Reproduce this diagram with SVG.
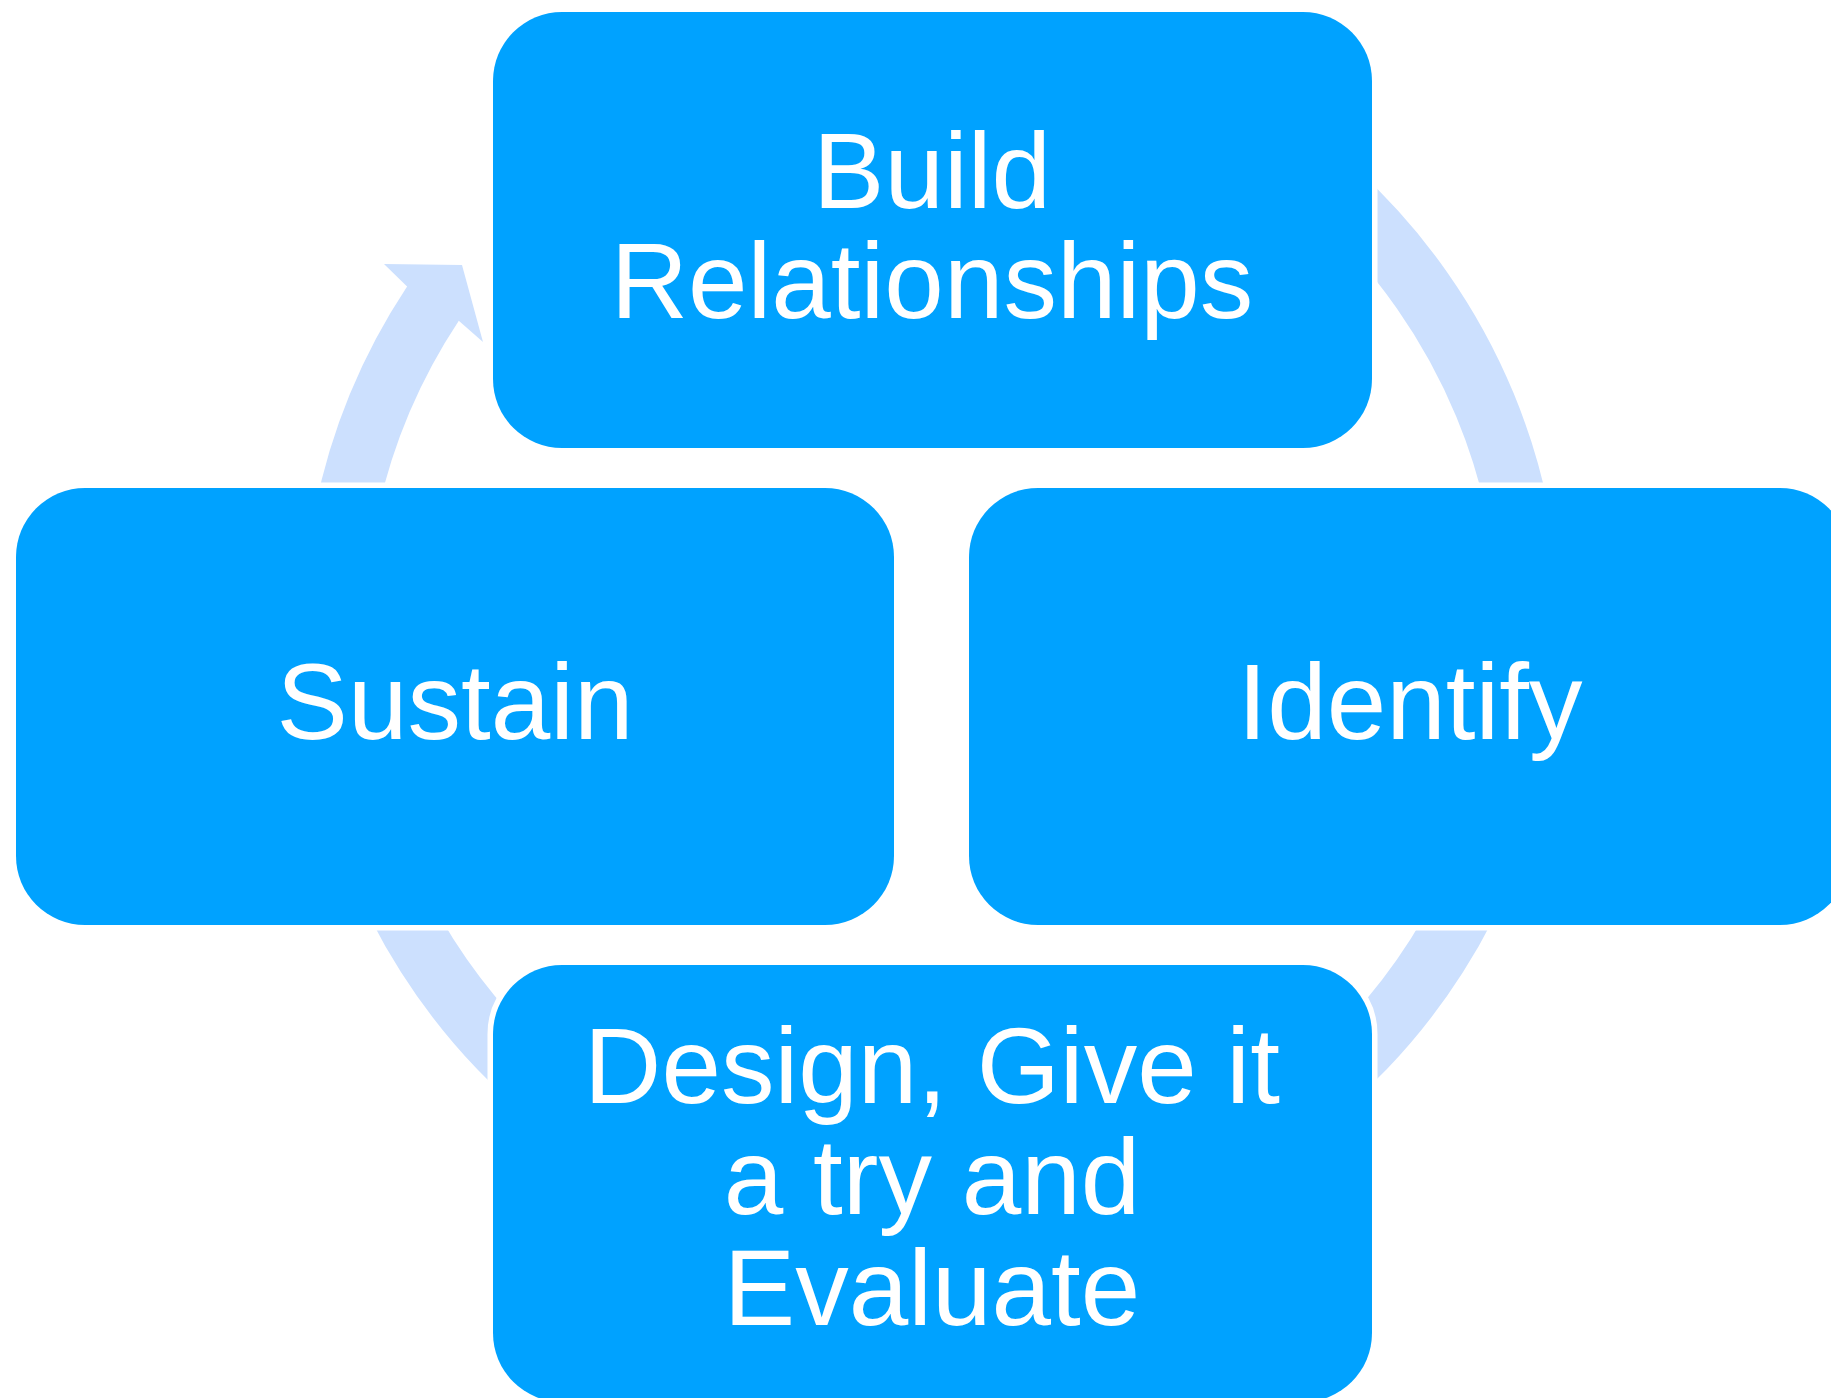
<svg xmlns="http://www.w3.org/2000/svg" width="1831" height="1398" viewBox="0 0 1831 1398">
<style>
.node{fill:#00a2ff;stroke:#ffffff;stroke-width:11;paint-order:stroke}
.arc{fill:#cce0fe;stroke:none}
.lbl{fill:#ffffff;font-family:"Liberation Sans",Arial,sans-serif;font-size:107px;text-anchor:middle}
</style>
<rect width="1831" height="1398" fill="#ffffff"/>
<g id="connectors">
<path class="arc" d="M 1246.75 88.8 A 629.5 629.5 0 0 1 1551.9 524.7 L 1490.9 535.5 A 567.5 567.5 0 0 0 1215.75 142.5 Z"/>
<path class="arc" d="M 1551.9 743.3 A 629.5 629.5 0 0 1 1293.1 1149.7 L 1257.5 1098.9 A 567.5 567.5 0 0 0 1490.9 732.5 Z"/>
<path class="arc" d="M 570.9 1149.7 A 629.5 629.5 0 0 1 312.1 743.3 L 373.1 732.5 A 567.5 567.5 0 0 0 606.5 1098.9 Z"/>
<path class="arc" d="M 312.1 524.7 A 629.5 629.5 0 0 1 407.1 286.6 L 384 264 L 462 265 L 483 342 L 458.8 320.8 A 567.5 567.5 0 0 0 373.1 535.5 Z"/>
</g>
<g id="node-build">
<rect class="node" x="493" y="12" width="879" height="436" rx="69"/>
<text class="lbl" x="932" y="208">Build</text>
<text class="lbl" x="932" y="318">Relationships</text>
</g>
<g id="node-sustain">
<rect class="node" x="16" y="488" width="878" height="437" rx="69"/>
<text class="lbl" x="455" y="739">Sustain</text>
</g>
<g id="node-identify">
<rect class="node" x="969" y="488" width="880" height="437" rx="69"/>
<text class="lbl" x="1410" y="739">Identify</text>
</g>
<g id="node-design">
<rect class="node" x="493" y="965" width="879" height="437" rx="69"/>
<text class="lbl" x="932" y="1103">Design, Give it</text>
<text class="lbl" x="932" y="1214">a try and</text>
<text class="lbl" x="932" y="1325">Evaluate</text>
</g>
</svg>
